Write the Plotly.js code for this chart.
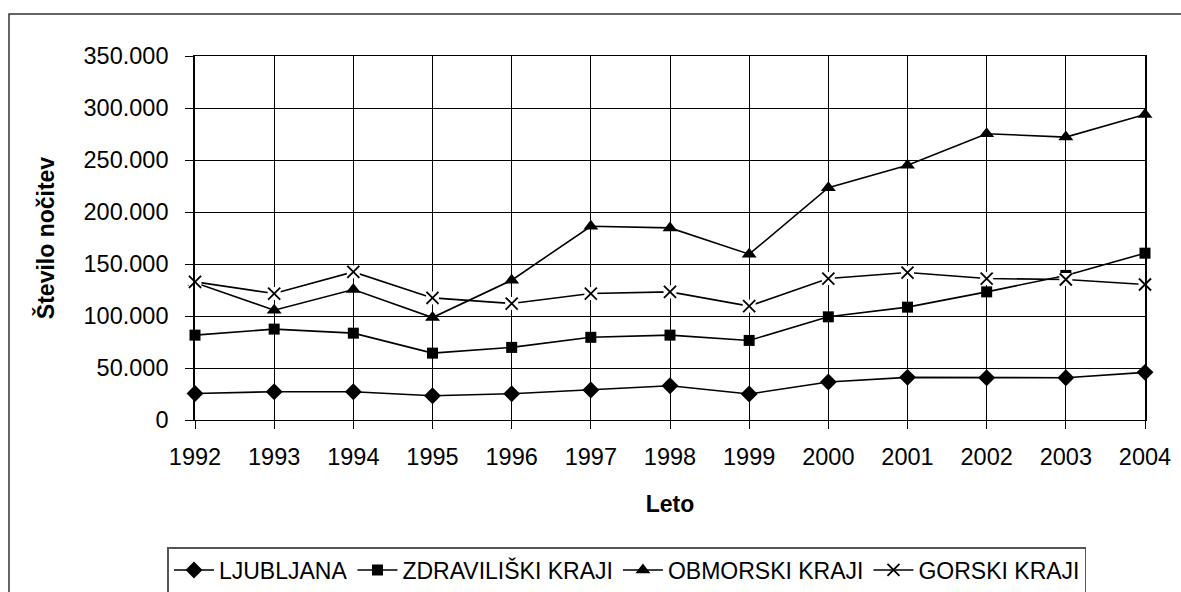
<!DOCTYPE html>
<html>
<head>
<meta charset="utf-8">
<script src="https://cdn.plot.ly/plotly-3.0.1.min.js"></script>
<style>
html,body{margin:0;padding:0;background:#fff;}
#chart{width:1181px;height:592px;}
</style>
</head>
<body>
<div id="chart"></div>
<script>
const years = [1992,1993,1994,1995,1996,1997,1998,1999,2000,2001,2002,2003,2004];
const ljubljana = [25500,27200,27200,23300,25300,28800,33000,25000,36500,41000,40600,40600,45800];
const zdraviliski = [81600,87400,83500,64300,69800,79500,81600,76500,99200,108500,123200,139000,160400];
const obmorski = [132000,105600,125500,98500,134400,186300,184700,159400,223400,244900,275300,272000,293800];
const gorski = [132800,121600,142400,117400,112000,121600,123200,109500,136000,141800,136000,135100,130300];
const seriesNames = ['LJUBLJANA','ZDRAVILIŠKI KRAJI','OBMORSKI KRAJI','GORSKI KRAJI'];
const yTitle = 'Število nočitev';
const xTitle = 'Leto';

const lineStyle = {color:'#000', width:1.6};
const traces = [
  {x:years, y:ljubljana, name:seriesNames[0], mode:'lines+markers', line:lineStyle, cliponaxis:false,
   marker:{symbol:'diamond', size:13, color:'#000'}},
  {x:years, y:zdraviliski, name:seriesNames[1], mode:'lines+markers', line:lineStyle, cliponaxis:false,
   marker:{symbol:'square', size:11, color:'#000'}},
  {x:years, y:obmorski, name:seriesNames[2], mode:'lines+markers', line:lineStyle, cliponaxis:false,
   marker:{symbol:'triangle-up', size:13, color:'#000'}},
  {x:years, y:gorski, name:seriesNames[3], mode:'lines+markers', line:lineStyle, cliponaxis:false,
   marker:{symbol:'x-thin', size:12, color:'#000', line:{color:'#000', width:1.8}}},
  {x:years, y:gorski, mode:'markers', showlegend:false, hoverinfo:'skip', cliponaxis:false,
   marker:{symbol:'square', size:13, color:'#fff', line:{width:0}}},
  {x:years, y:gorski, mode:'markers', showlegend:false, hoverinfo:'skip', cliponaxis:false,
   marker:{symbol:'x-thin', size:12, color:'#000', line:{color:'#000', width:1.8}}}
];

const fam = '"Liberation Sans", Arial, sans-serif';
const font = {family:fam, size:24, color:'#000'};

const layout = {
  width:1181, height:592,
  margin:{l:195, r:36, t:56, b:172, autoexpand:false},
  paper_bgcolor:'#fff', plot_bgcolor:'#fff',
  separators:',.',
  font:font,
  showlegend:true,
  xaxis:{
    range:[1992,2004], dtick:1, tick0:1992, automargin:false,
    showgrid:true, gridcolor:'#000', gridwidth:1,
    showline:true, linecolor:'#000', linewidth:1, mirror:true,
    ticks:'outside', ticklen:8, tickcolor:'#000', tickwidth:1,
    ticklabelstandoff:8,
    zeroline:false,
    tickfont:{family:fam, size:23.5, color:'#000'},
    title:{text:xTitle, font:{family:fam, size:23, color:'#000', weight:'bold'}, standoff:26}
  },
  yaxis:{
    range:[0,350000], dtick:50000, tick0:0, tickformat:',d', automargin:false,
    showgrid:true, gridcolor:'#000', gridwidth:1,
    showline:true, linecolor:'#000', linewidth:1.8, mirror:true,
    ticks:'outside', ticklen:8, tickcolor:'#000', tickwidth:1,
    ticklabelstandoff:12,
    zeroline:false,
    tickfont:{family:fam, size:23.5, color:'#000'},
    title:{text:yTitle, font:{family:fam, size:23, color:'#000', weight:'bold'}, standoff:22}
  },
  legend:{
    orientation:'h', x:0.4547, xanchor:'center', y:-0.349, yanchor:'top',
    bordercolor:'#555', borderwidth:1.5, bgcolor:'#fff',
    font:{family:fam, size:23, color:'#000'},
    itemwidth:40, tracegroupgap:0
  },
  shapes:[
    {type:'rect', xref:'paper', yref:'paper', x0:-0.1958, x1:1.06, y0:-0.52, y1:1.1154,
     line:{color:'#333', width:1.5}, fillcolor:'rgba(0,0,0,0)', layer:'below'}
  ]
};

Plotly.newPlot('chart', traces, layout, {staticPlot:true, displayModeBar:false});
</script>
</body>
</html>
